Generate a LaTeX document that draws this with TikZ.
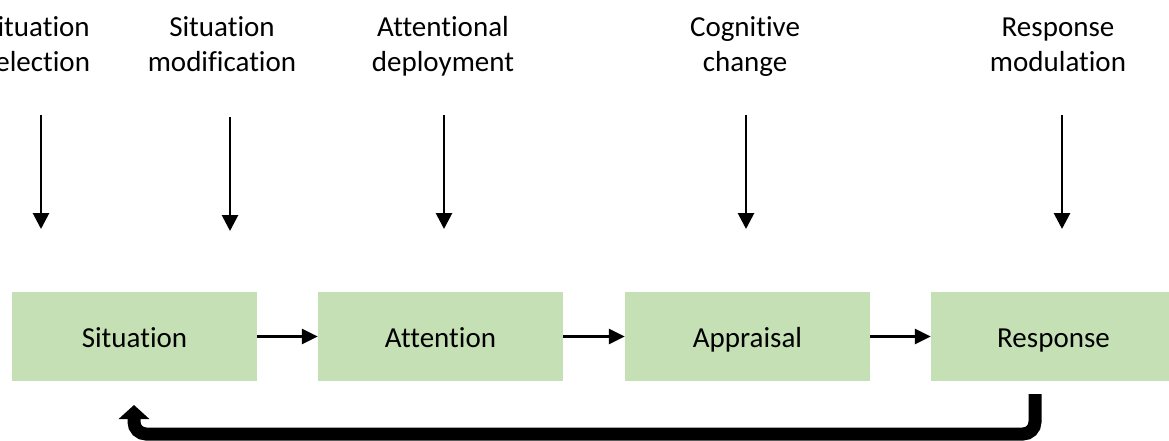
\documentclass[tikz,border=0pt]{standalone}
\usepackage{fontspec}
\setmainfont{Carlito}[Ligatures=NoCommon]
\usetikzlibrary{arrows.meta}
\definecolor{boxgreen}{HTML}{C5E0B4}
\begin{document}
\begin{tikzpicture}[x=1pt,y=-1pt,
  stage/.style={fill=boxgreen,draw=none,minimum width=245pt,minimum height=89pt,inner sep=0pt,text height=21pt,text depth=0pt,font=\fontsize{29}{35}\selectfont},
  lab/.style={align=center,font=\fontsize{29}{35}\selectfont,inner sep=0pt,anchor=base},
  down/.style={line width=2.8pt,-{Triangle[length=16pt,width=16pt]}},
  right/.style={line width=2.8pt,-{Triangle[length=16pt,width=15pt]}},
  back/.style={line width=13pt,rounded corners=12pt,-{Triangle[length=14pt,width=30pt]}}]
\useasboundingbox (0,0) rectangle (1169,441);
\clip (0,0) rectangle (1169,441);
\node[stage] (s1) at (134.5,336.5) {Situation};
\node[stage] (s2) at (440.5,336.5) {Attention};
\node[stage] (s3) at (747.5,336.5) {Appraisal};
\node[stage] (s4) at (1053.5,336.5) {Response};
\node[lab] (l1) at (37,72) {Situation\\selection};
\node[lab] (l2) at (222,72) {Situation\\modification};
\node[lab] (l3) at (443,72) {Attentional\\deployment};
\node[lab] (l4) at (745,72) {Cognitive\\change};
\node[lab] (l5) at (1058,72) {Response\\modulation};
\coordinate (a1s) at (41,115); \coordinate (a1e) at (41,229);
\coordinate (a2s) at (230,117); \coordinate (a2e) at (230,231);
\coordinate (a3s) at (444,115); \coordinate (a3e) at (444,229);
\coordinate (a4s) at (746,115); \coordinate (a4e) at (746,229);
\coordinate (a5s) at (1062,115); \coordinate (a5e) at (1062,229);
\foreach \i in {1,...,5} \draw[down] (a\i s) -- (a\i e);
\draw[right] (s1.east) -- (s2.west);
\draw[right] (s2.east) -- (s3.west);
\draw[right] (s3.east) -- (s4.west);
\coordinate (fb) at (1035,394);
\coordinate (tip) at (134,405);
\draw[back] (fb) -- (1035,434) -- (134,434) -- (tip);
\end{tikzpicture}
\end{document}
